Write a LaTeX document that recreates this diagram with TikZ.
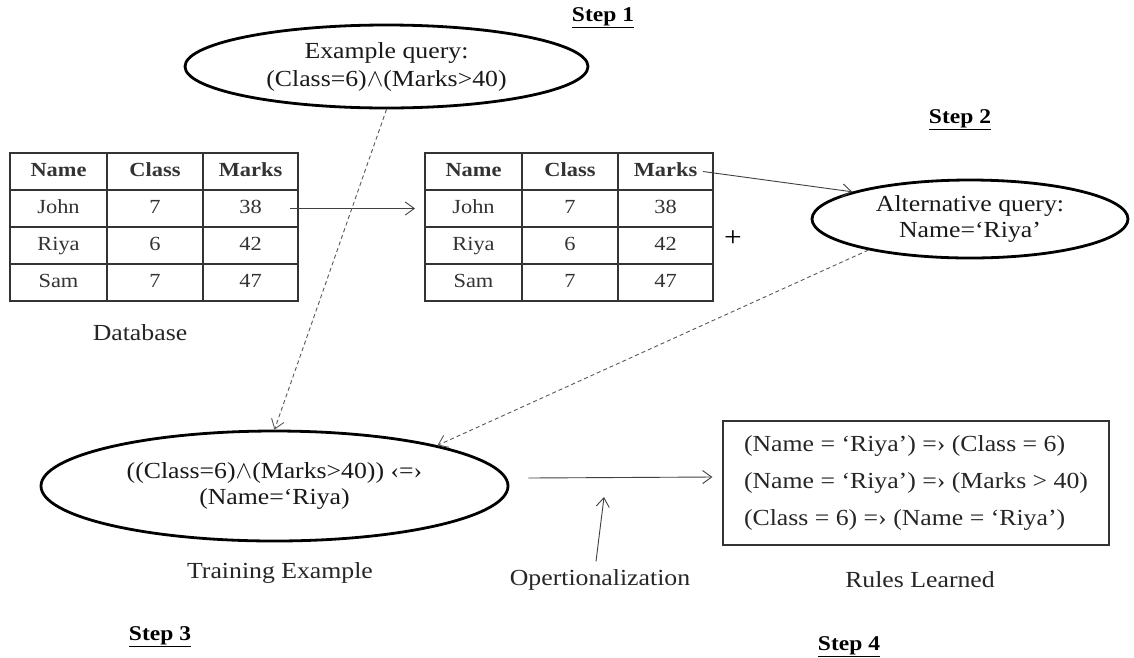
\documentclass[tikz,border=0pt]{standalone}
\usepackage{fontspec}
\setmainfont{Liberation Serif}[FakeStretch=1.12]
\usetikzlibrary{shapes.geometric,arrows.meta,calc}
\newcommand\tabrow[7]{%
  \node[cell,minimum width=97pt] (#1-#4-1) at (#2+48.5,#3) {#5};
  \node[cell,minimum width=96pt] (#1-#4-2) at (#2+145,#3) {#6};
  \node[cell,minimum width=95pt] (#1-#4-3) at (#2+240.5,#3) {#7};}
\tikzset{
  bigfont/.style={font=\fontsize{23}{26}\selectfont},
  oval/.style={ellipse,draw=black,line width=2.8pt,inner sep=0pt,align=center,bigfont,text=black!90},
  cell/.style={draw=black!80,line width=1.4pt,minimum height=37pt,inner sep=0pt,outer sep=0pt,
     text height=13.5pt,text depth=4.5pt,
     font=\fontsize{20}{22}\selectfont,text=black!80},
  label/.style={bigfont,text=black!85,inner sep=2pt},
  steplbl/.style={font=\fontsize{21}{23}\selectfont\bfseries,inner sep=0pt},
  arr/.style={draw=black!75,line width=0.9pt,-{Straight Barb[length=9pt,width=13pt,line width=0.9pt]}},
  darr/.style={draw=black!65,line width=0.9pt,dash pattern=on 4pt off 3pt,
     -{Straight Barb[length=9pt,width=13pt,line width=0.9pt]}},
}
\begin{document}
\begin{tikzpicture}[x=1pt,y=-1pt]
\useasboundingbox[fill=white] (0,0) rectangle (1134,657);
% step labels
\node[steplbl] (s1) at (603,18) {\underline{Step 1}};
\node[steplbl] (s2) at (960,120) {\underline{Step 2}};
\node[steplbl] (s3) at (160,637) {\underline{Step 3}};
\node[steplbl] (s4) at (849,647) {\underline{Step 4}};
% ellipses
\node[oval,minimum width=403pt,minimum height=83pt,font=\fontsize{23}{28}\selectfont] (ex) at (386.5,66.5)
  {Example query:\\(Class=6)$\wedge$(Marks>40)};
\node[oval,minimum width=316pt,minimum height=78pt] (alt) at (970,219)
  {Alternative query:\\Name=‘Riya’};
\node[oval,minimum width=467pt,minimum height=110pt] (tr) at (274.5,486)
  {((Class=6)$\wedge$(Marks>40)) ‹=›\\(Name=‘Riya)};
% tables
\tabrow{a}{10}{171.5}{0}{\textbf{Name}}{\textbf{Class}}{\textbf{Marks}}
\tabrow{a}{10}{208.5}{1}{John}{7}{38}
\tabrow{a}{10}{245.5}{2}{Riya}{6}{42}
\tabrow{a}{10}{282.5}{3}{Sam}{7}{47}
\tabrow{b}{425}{171.5}{0}{\textbf{Name}}{\textbf{Class}}{\textbf{Marks}}
\tabrow{b}{425}{208.5}{1}{John}{7}{38}
\tabrow{b}{425}{245.5}{2}{Riya}{6}{42}
\tabrow{b}{425}{282.5}{3}{Sam}{7}{47}
\node[label] (db) at (140,333) {Database};
\node[font=\fontsize{28}{28}\selectfont,inner sep=0pt] (plus) at (733,239) {+};
% rules box
\node[draw=black!80,line width=1.2pt,minimum width=386pt,minimum height=124pt,
  inner sep=0pt,align=left,font=\fontsize{23}{37}\selectfont,text=black!85] (rules) at (916,483)
  {(Name = ‘Riya’) =› (Class = 6)\\(Name = ‘Riya’) =› (Marks > 40)\\(Class = 6) =› (Name = ‘Riya’)};
\node[label] (te) at (280,573) {Training Example};
\node[label] (rl) at (920,580) {Rules Learned};
\node[label] (op) at (600,580) {Opertionalization};
\coordinate (optip) at (604,497);
% connectors
\draw[arr] ($(a-1-3.east)+(-8,0)$) -- ($(b-1-1.west)+(-10,0)$);
\draw[arr] ($(b-0-3.east)+(-10,0)$) -- (alt.167);
\draw[darr] (ex.south) -- (tr.north);
\draw[darr] (alt.197) -- (tr.14);
\draw[arr] ($(tr.east)+(19,-8)$) -- ($(rules.west)+(-10,-6)$);
\draw[arr] ($(op.north)+(-4,-6)$) -- (optip);
\end{tikzpicture}
\end{document}
